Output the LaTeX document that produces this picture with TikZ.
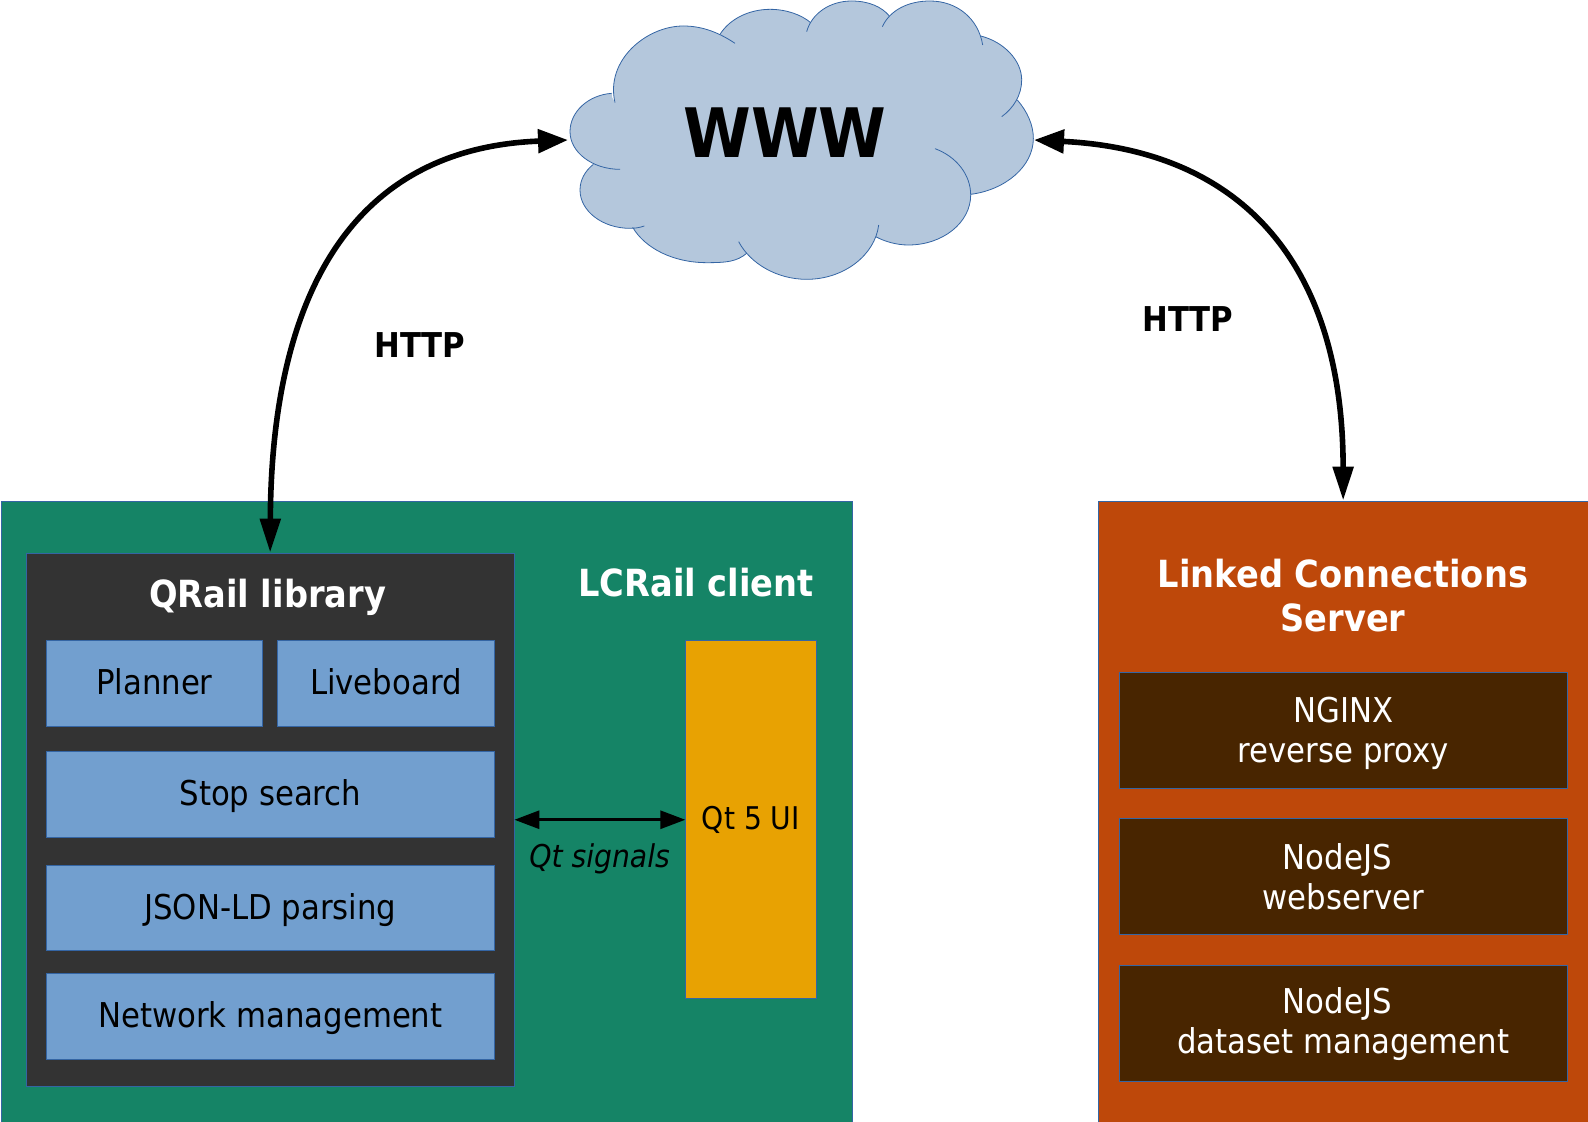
\documentclass[tikz,border=0pt]{standalone}
\usepackage{fontspec}
\setmainfont{DejaVu Sans Condensed}
\usetikzlibrary{arrows.meta}
\definecolor{cloudfill}{HTML}{B4C7DC}
\definecolor{edgeblue}{HTML}{3465A4}
\definecolor{clientgreen}{HTML}{158466}
\definecolor{libgray}{HTML}{333333}
\definecolor{partblue}{HTML}{729FCF}
\definecolor{uiyellow}{HTML}{E8A202}
\definecolor{serverorange}{HTML}{BE480A}
\definecolor{partbrown}{HTML}{482500}
\def\cloudlobes{
  {(225,308) .. controls (195,180) and (320,78) .. (430,78) .. controls (490,78) and (540,100) .. (585,130)},
  {(540,103) .. controls (570,55) and (630,28) .. (690,28) .. controls (740,28) and (785,45) .. (812,68)},
  {(800,95) .. controls (815,40) and (870,3) .. (935,3) .. controls (985,3) and (1025,20) .. (1048,48)},
  {(1027,80) .. controls (1050,30) and (1105,3) .. (1170,3) .. controls (1250,3) and (1315,55) .. (1328,135)},
  {(1322,108) .. controls (1390,125) and (1445,180) .. (1445,240) .. controls (1445,285) and (1420,325) .. (1385,350)},
  {(1432,300) .. controls (1462,335) and (1480,375) .. (1480,415) .. controls (1480,500) and (1395,570) .. (1292,583)},
  {(1185,446) .. controls (1250,470) and (1292,525) .. (1292,585) .. controls (1292,668) and (1208,735) .. (1105,735) .. controls (1070,735) and (1035,725) .. (1007,710)},
  {(1016,675) .. controls (1005,765) and (912,838) .. (800,838) .. controls (710,838) and (630,790) .. (596,725)},
  {(620,760) .. controls (590,785) and (560,788) .. (500,788) .. controls (400,788) and (315,745) .. (278,682)},
  {(313,678) .. controls (298,683) and (285,685) .. (270,685) .. controls (187,685) and (120,633) .. (120,570) .. controls (120,540) and (135,513) .. (160,493)},
  {(240,508) .. controls (157,508) and (90,457) .. (90,395) .. controls (90,335) and (145,285) .. (215,280)}}
\begin{document}
\begin{tikzpicture}[
  x=0.5pt,y=-0.5pt,
  box/.style={draw=edgeblue,line width=0.4pt,inner sep=0pt},
  libpart/.style={box,fill=partblue,minimum height=42.75pt,text height=14pt,text depth=2.5pt,font=\fontsize{17.1}{20}\selectfont},
  srvpart/.style={box,fill=partbrown,text=white,minimum width=224pt,minimum height=58pt,align=center,font=\fontsize{17.1}{20}\selectfont},
  title/.style={text=white,inner sep=0pt,align=center,font=\fontsize{18.7}{22}\selectfont\bfseries},
  httplabel/.style={inner sep=0pt,font=\fontsize{17.1}{20}\selectfont\bfseries},
  bigarrow/.style={line width=2.8pt,{Triangle[length=17pt,width=10pt]}-{Triangle[length=15pt,width=11.5pt]}},
  smallarrow/.style={line width=1.5pt,{Triangle[length=12.5pt,width=9pt]}-{Triangle[length=12.5pt,width=9pt]}},
]
\useasboundingbox (0,0) rectangle (1588,1122);
% cloud
\begin{scope}[xshift=270pt,x=0.16667pt,y=-0.16667pt]
\fill[cloudfill] (225,308) -- (400,120) -- (540,103) -- (690,60) -- (812,68) -- (935,30) -- (1048,48)
  -- (1170,30) -- (1328,135) -- (1410,220) -- (1432,300) -- (1450,420) -- (1292,583) -- (1250,620)
  -- (1007,710) -- (800,810) -- (620,760) -- (450,760) -- (278,682) -- (170,600) -- (160,493)
  -- (120,400) -- (215,290) -- cycle;
\foreach \lobe in \cloudlobes
  \fill[cloudfill] \lobe;
\foreach \lobe in \cloudlobes
  \draw[edgeblue,line width=0.4pt] \lobe;
\end{scope}
\node[inner sep=0pt,font=\fontsize{34.1}{40}\selectfont\bfseries] (www) at (785,132.5) {WWW};
\coordinate (wwwleft) at (568,140);
\coordinate (wwwright) at (1034,140);

% client
\node[box,fill=clientgreen,minimum width=425.5pt,minimum height=310.5pt] (lcrail) at (426.5,811.5) {};
\node[title] (lcrailtitle) at (696,583) {LCRail client};
\node[box,fill=libgray,minimum width=243.85pt,minimum height=266.75pt] (qrail) at (270.15,819.75) {};
\node[title] (qrailtitle) at (267.5,597) {QRail library};
\node[libpart,minimum width=108.4pt] (planner) at (154.4,683.2) {Planner};
\node[libpart,minimum width=108.9pt] (liveboard) at (385.9,683.2) {Liveboard};
\node[libpart,minimum width=224.4pt] (stopsearch) at (270.4,794.2) {Stop search};
\node[libpart,minimum width=224.4pt] (jsonld) at (270.4,908) {JSON-LD parsing};
\node[libpart,minimum width=224.4pt] (network) at (270.4,1016.2) {Network management};
\node[box,fill=uiyellow,minimum width=65.15pt,minimum height=179pt,font=\fontsize{15.65}{18}\selectfont] (qtui) at (750.85,819.75) {Qt 5 UI};
\node[inner sep=0pt,font=\fontsize{15.7}{18}\selectfont\itshape] (qtsignals) at (599.6,859) {Qt signals};

% server
\node[box,fill=serverorange,minimum width=244.85pt,minimum height=310.5pt] (lcserver) at (1343.15,811.5) {};
\node[title] (lcservertitle) at (1343,596) {Linked Connections\\Server};
\node[srvpart] (nginx) at (1343.3,730.5) {\rule{0pt}{15.5pt}NGINX\\reverse proxy};
\node[srvpart] (webserver) at (1343.3,876.7) {NodeJS\hspace*{.35em}\\webserver};
\node[srvpart] (dataset) at (1343.3,1023.7) {\rule{0pt}{13.6pt}NodeJS\hspace*{.35em}\\dataset management};

\node[httplabel] (httpleft) at (420,345.5) {HTTP};
\node[httplabel] (httpright) at (1188,319.5) {HTTP};

\draw[bigarrow] (qrail.north) .. controls (271,375) and (305,150) .. (wwwleft);
\draw[bigarrow] (lcserver.north) .. controls (1343,262) and (1240,150) .. (wwwright);
\draw[smallarrow] (qrail.east) -- (qtui.west);
\end{tikzpicture}
\end{document}
